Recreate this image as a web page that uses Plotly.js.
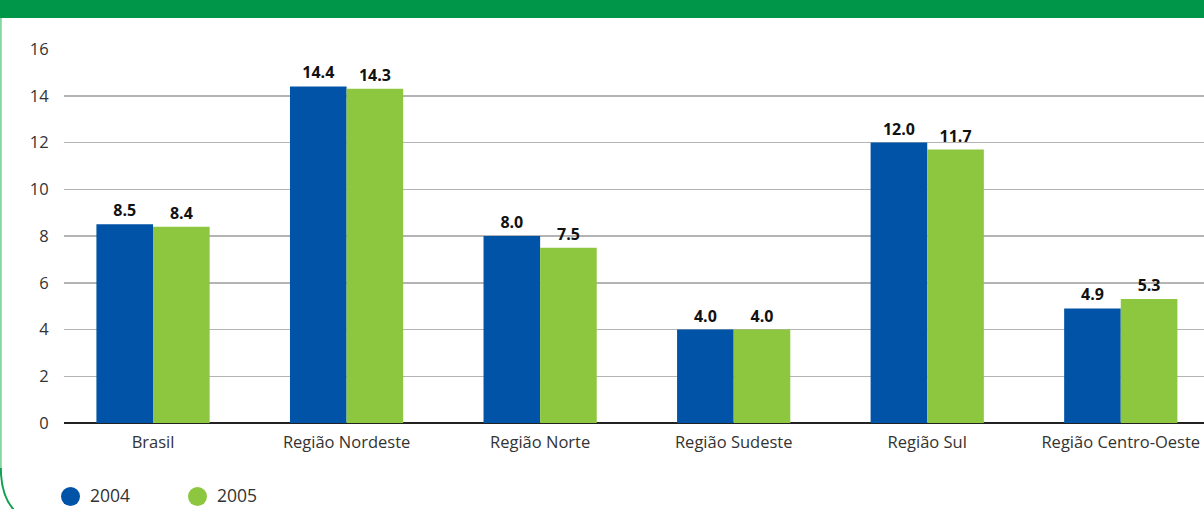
<!DOCTYPE html>
<html><head><meta charset="utf-8">
<script src="https://cdn.plot.ly/plotly-3.0.1.min.js"></script>
<style>html,body{margin:0;padding:0;background:#fff}#chart{width:1204px;height:509px}</style>
</head><body><div id="chart"></div>
<script>
const categories = ["Brasil","Região Nordeste","Região Norte","Região Sudeste","Região Sul","Região Centro-Oeste"];
const values2004 = [8.5,14.4,8.0,4.0,12.0,4.9];
const values2005 = [8.4,14.3,7.5,4.0,11.7,5.3];
const seriesNames = ["2004","2005"];
const colors = ["#0053a6","#8dc63f"];

const L=64, T=49, W=1140, H=374;
const px = x => (x-L)/W;
const py = y => (T+H-y)/H;

const FONT = "Open Sans, Noto Sans, sans-serif";
const labelFont = {family: FONT, size: 16, color: "#111", weight: 700};

const traces = [
  {type:"bar", x:categories, y:values2004, name:seriesNames[0], marker:{color:colors[0]},
   texttemplate:"<b>%{y:.1f}</b>", textposition:"outside", textfont:labelFont, cliponaxis:false, showlegend:false, hoverinfo:"skip"},
  {type:"bar", x:categories, y:values2005, name:seriesNames[1], marker:{color:colors[1]},
   texttemplate:"<b>%{y:.1f}</b>", textposition:"outside", textfont:labelFont, cliponaxis:false, showlegend:false, hoverinfo:"skip"}
];

// legend drawn as circles + text
const legendX = [70.5, 197.5];
const legendY = 496.5, R = 9.5;
const legendShapes = seriesNames.map((n,i)=>({type:"circle", xref:"paper", yref:"paper",
  x0:px(legendX[i]-R), x1:px(legendX[i]+R), y0:py(legendY+R), y1:py(legendY-R),
  fillcolor:colors[i], line:{width:0}}));
const legendAnn = seriesNames.map((n,i)=>({xref:"paper", yref:"paper", x:px(legendX[i]+R+9), y:py(508),
  xanchor:"left", yanchor:"bottom", text:n, showarrow:false, borderpad:0, font:{family:FONT, size:17.5, color:"#333"}}));

const layout = {
  width:1204, height:509,
  margin:{l:L, r:0, t:T, b:509-T-H, pad:0},
  paper_bgcolor:"#fff", plot_bgcolor:"#fff",
  showlegend:false,
  font:{family:FONT, size:16.5, color:"#333"},
  barmode:"group", bargap:0.415, bargroupgap:0,
  xaxis:{type:"category", range:[-0.46,5.43], showgrid:false, showline:false, zeroline:false, automargin:false,
         ticks:"outside", ticklen:4, tickcolor:"rgba(0,0,0,0)", tickfont:{family:FONT, size:16.5, color:"#333"}},
  yaxis:{range:[0,16], dtick:2, showgrid:true, gridcolor:"#b4b4b4", gridwidth:1.5, automargin:false,
         zeroline:true, zerolinecolor:"#222", zerolinewidth:1.5, showline:false,
         ticks:"outside", ticklen:11, tickcolor:"rgba(0,0,0,0)", tickfont:{family:FONT, size:16.5, color:"#333"}},
  annotations: legendAnn,
  shapes:[
    {type:"rect", xref:"paper", yref:"paper", x0:px(0), x1:1, y0:py(18), y1:py(-1), fillcolor:"#00964a", line:{width:0}, layer:"above"},
    {type:"path", xref:"paper", yref:"paper",
     path:`M ${px(0.8)} ${py(18)} L ${px(0.8)} ${py(470)}`, line:{color:"#86d5a4", width:2}},
    {type:"path", xref:"paper", yref:"paper",
     path:`M ${px(0.8)} ${py(468)} Q ${px(1)} ${py(496)} ${px(14)} ${py(510)}`, line:{color:"#10a050", width:2}}
  ].concat(legendShapes)
};

Plotly.newPlot("chart", traces, layout, {displayModeBar:false, staticPlot:true});
</script></body></html>
